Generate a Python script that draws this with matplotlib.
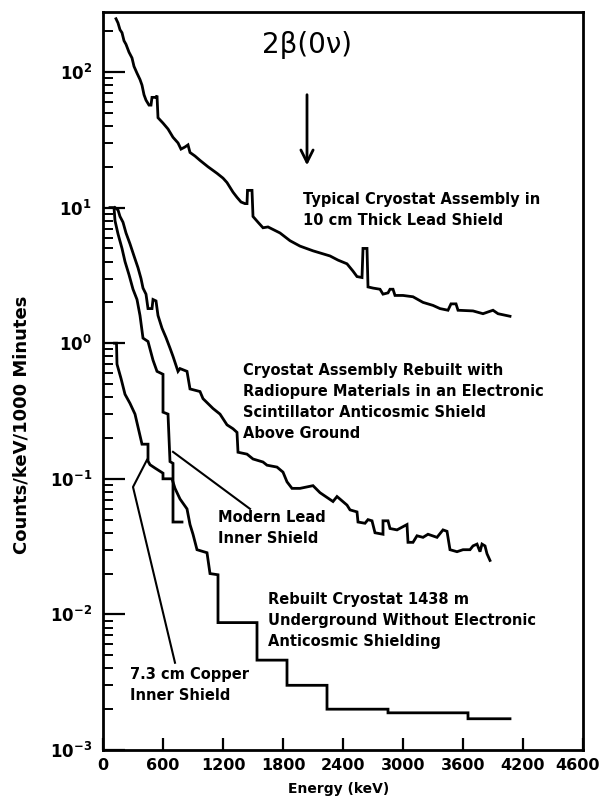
import matplotlib
matplotlib.use("Agg")
import matplotlib.pyplot as plt
import matplotlib.transforms as mtransforms
from matplotlib.ticker import LogLocator, NullFormatter

# ---------------- data (energy keV, counts/keV/1000 min) ----------------
# Typical cryostat assembly in 10 cm thick lead shield
E_typical = [130, 150, 170, 190, 210, 230, 260, 290, 310, 340,
             370, 390, 410, 430, 460, 480, 490, 530, 540, 550,
             600, 650, 700, 750, 780, 820, 850, 870, 920, 970,
             1050, 1140, 1200, 1240, 1300, 1340, 1380, 1420, 1440, 1445,
             1490, 1500, 1550, 1600, 1650, 1700, 1770, 1870, 1970, 2100,
             2270, 2350, 2440, 2500, 2540, 2590, 2600, 2640, 2650, 2700,
             2770, 2800, 2850, 2870, 2900, 2920, 3000, 3100, 3200, 3300,
             3370, 3450, 3480, 3530, 3550, 3700, 3800, 3850, 3900, 3950,
             4070]
C_typical = [247, 230, 205, 195, 170, 160, 140, 127, 110, 98,
             88, 80, 68, 62, 57, 57, 65, 65, 67, 46,
             42, 38, 33, 30, 27, 28, 29, 25.5, 24, 22.3,
             20, 17.9, 16.5, 15.3, 13, 11.9, 11, 10.7, 10.7, 13.4,
             13.4, 8.6, 7.8, 7.1, 7.2, 6.9, 6.5, 5.7, 5.2, 4.8,
             4.4, 4.1, 3.85, 3.4, 3.1, 3.05, 5.0, 5.0, 2.6, 2.55,
             2.5, 2.3, 2.35, 2.5, 2.5, 2.25, 2.25, 2.2, 2.0, 1.9,
             1.8, 1.75, 1.95, 1.95, 1.75, 1.73, 1.65, 1.7, 1.75, 1.65,
             1.58]

# Rebuilt with radiopure materials, anticosmic shield, above ground
E_above = [120, 150, 170, 200, 230, 270, 310, 350, 380, 400,
           430, 450, 490, 500, 530, 550, 590, 630, 670, 700,
           750, 770, 840, 870, 970, 1000, 1100, 1170, 1240, 1300,
           1340, 1350, 1440, 1500, 1600, 1640, 1740, 1800, 1840, 1890,
           1970, 2100, 2170, 2300, 2340, 2440, 2470, 2540, 2550, 2620,
           2650, 2690, 2720, 2800, 2800, 2850, 2870, 2940, 3040, 3050,
           3100, 3140, 3200, 3250, 3340, 3400, 3440, 3470, 3540, 3600,
           3670, 3700, 3740, 3770, 3790, 3820, 3840, 3870]
C_above = [10, 9.6, 8.6, 7.8, 6.5, 5.4, 4.4, 3.6, 3.0, 2.55,
           2.3, 1.8, 1.8, 2.1, 2.05, 1.6, 1.29, 1.1, 0.92, 0.8,
           0.62, 0.65, 0.62, 0.46, 0.44, 0.39, 0.33, 0.30, 0.25, 0.234,
           0.22, 0.157, 0.152, 0.14, 0.133, 0.126, 0.122, 0.112, 0.095, 0.085,
           0.085, 0.089, 0.079, 0.068, 0.074, 0.064, 0.059, 0.057, 0.048, 0.047,
           0.05, 0.049, 0.04, 0.039, 0.049, 0.049, 0.043, 0.042, 0.046, 0.034,
           0.034, 0.038, 0.037, 0.039, 0.037, 0.042, 0.041, 0.03, 0.029, 0.03,
           0.03, 0.032, 0.033, 0.029, 0.033, 0.032, 0.028, 0.025]

# Underground, modern lead inner shield
E_lead = [70, 110, 120, 150, 190, 220, 260, 300, 340, 370,
          400, 450, 500, 540, 600, 600, 650, 670, 700, 700, 790]
C_lead = [10, 10, 8.0, 6.4, 5.0, 4.0, 3.2, 2.5, 2.1, 1.6,
          1.09, 1.03, 0.75, 0.62, 0.59, 0.31, 0.30, 0.134, 0.13, 0.048, 0.048]

# Underground, 7.3 cm copper inner shield
E_copper = [115, 135, 140, 180, 220, 270, 320, 390, 450, 450,
            470, 520, 600, 600, 690, 720, 770, 840, 870, 900,
            940, 1040, 1070, 1150, 1150, 1540, 1540, 1840, 1840, 2240,
            2240, 2850, 2850, 3650, 3650, 4070]
C_copper = [1.0, 1.0, 0.70, 0.55, 0.42, 0.36, 0.30, 0.18, 0.18, 0.135,
            0.127, 0.12, 0.11, 0.1, 0.1, 0.085, 0.071, 0.060, 0.046, 0.039,
            0.030, 0.0285, 0.020, 0.0196, 0.0087, 0.0087, 0.0046, 0.0046, 0.0030, 0.0030,
            0.0020, 0.0020, 0.00188, 0.00188, 0.0017, 0.0017]

X_TICKS = [0, 600, 1200, 1800, 2400, 3000, 3600, 4200, 4800]
X_TICK_LABELS = ["0", "600", "1200", "1800", "2400", "3000", "3600", "4200", "4600"]
Y_TICKS = [1e-3, 1e-2, 1e-1, 1e0, 1e1, 1e2]
Y_TICK_LABELS = [r"$\mathbf{10^{-3}}$", r"$\mathbf{10^{-2}}$", r"$\mathbf{10^{-1}}$",
                 r"$\mathbf{10^{0}}$", r"$\mathbf{10^{1}}$", r"$\mathbf{10^{2}}$"]

Q_BB = 2040  # 2beta(0nu) energy, keV

# ---------------- figure ----------------
plt.rcParams["mathtext.fontset"] = "dejavusans"
fig = plt.figure(figsize=(6.04, 8.0), dpi=100)
ax = fig.add_axes([103 / 604, 50 / 800, 480 / 604, 738 / 800])

lw = 2.0
for E, C in [(E_typical, C_typical), (E_above, C_above),
             (E_lead, C_lead), (E_copper, C_copper)]:
    ax.plot(E, C, color="black", lw=lw, solid_joinstyle="miter")

ax.set_yscale("log")
ax.set_xlim(0, 4800)
ax.set_ylim(1e-3, 277)

ax.set_xticks(X_TICKS)
ax.set_xticklabels(X_TICK_LABELS, fontsize=11.5, fontweight="bold")
ax.set_yticks(Y_TICKS)
ax.set_yticklabels(Y_TICK_LABELS, fontsize=12)
ax.yaxis.set_minor_locator(LogLocator(base=10, subs=range(2, 10)))
ax.yaxis.set_minor_formatter(NullFormatter())

ax.tick_params(axis="y", which="major", direction="in", length=16, width=1.6, pad=8)
ax.tick_params(axis="y", which="minor", direction="in", length=7, width=1.4)
ax.tick_params(axis="x", which="major", direction="in", length=9, width=1.6, pad=6)
for s in ax.spines.values():
    s.set_linewidth(2.0)

# keep the last x tick label inside the figure
last = ax.get_xticklabels()[-1]
last.set_transform(last.get_transform() +
                   mtransforms.ScaledTranslation(-5 / 100, 0, fig.dpi_scale_trans))

ax.set_ylabel("Counts/keV/1000 Minutes", fontsize=13, fontweight="bold")
ax.yaxis.set_label_coords(-0.15, 0.44)
ax.set_xlabel("Energy (keV)", fontsize=10, fontweight="bold")
ax.xaxis.set_label_coords(0.49, -0.043)

# 2beta(0nu) marker
ax.annotate("", xy=(Q_BB, 20.5), xytext=(Q_BB, 68),
            arrowprops=dict(arrowstyle="->", lw=2, color="black",
                            mutation_scale=22, shrinkA=0, shrinkB=0))
ax.text(Q_BB, 158, "2β(0ν)", fontsize=20, ha="center", va="center")

# curve labels
lab = dict(fontsize=10.5, fontweight="bold", ha="left", va="top", linespacing=1.5)
ax.text(2000, 13.0, "Typical Cryostat Assembly in\n10 cm Thick Lead Shield", **lab)
ax.text(1400, 0.72, "Cryostat Assembly Rebuilt with\nRadiopure Materials in an Electronic\n"
        "Scintillator Anticosmic Shield\nAbove Ground", **lab)
ax.text(1150, 0.059, "Modern Lead\nInner Shield", **lab)
ax.text(1650, 0.0146, "Rebuilt Cryostat 1438 m\nUnderground Without Electronic\n"
        "Anticosmic Shielding", **lab)
ax.text(270, 0.0041, "7.3 cm Copper\nInner Shield", **lab)

# pointer lines
ax.plot([700, 1470], [0.158, 0.060], color="black", lw=1.5)
ax.plot([440, 300, 720], [0.138, 0.087, 0.0044], color="black", lw=1.5)

fig.savefig("out.png", dpi=100)
